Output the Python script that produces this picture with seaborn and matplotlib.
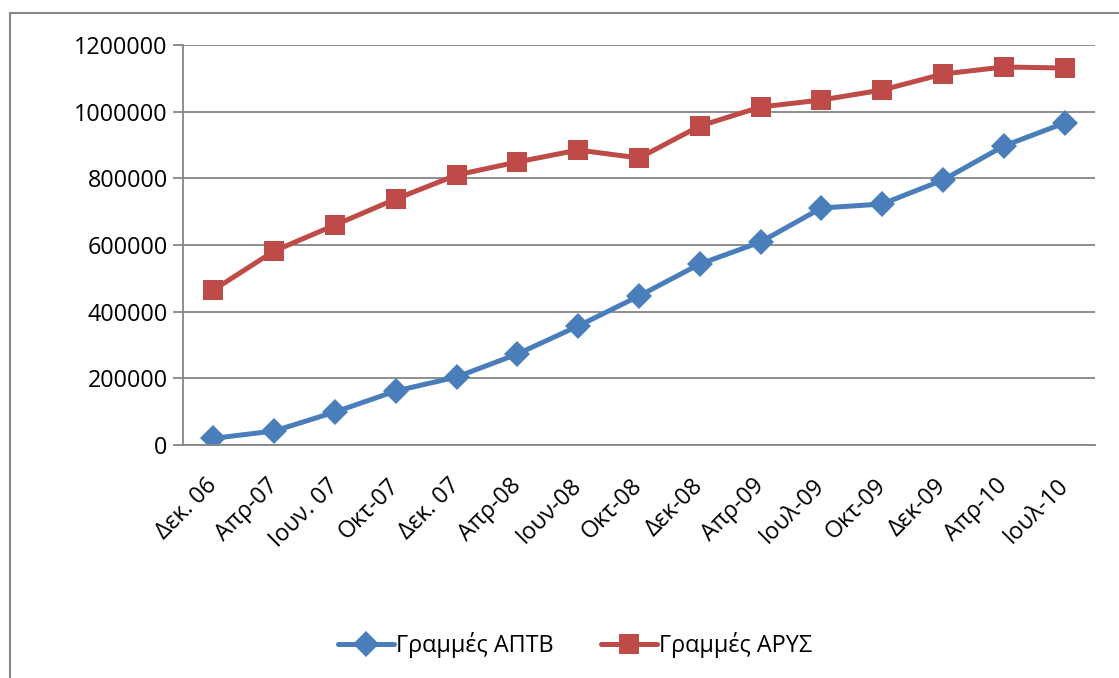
import matplotlib
matplotlib.use("Agg")
import matplotlib.pyplot as plt
import seaborn as sns
import pandas as pd
from matplotlib.patches import Rectangle
from matplotlib.ticker import FixedLocator

categories = ["Δεκ. 06", "Απρ-07", "Ιουν. 07", "Οκτ-07", "Δεκ. 07", "Απρ-08", "Ιουν-08",
              "Οκτ-08", "Δεκ-08", "Απρ-09", "Ιουλ-09", "Οκτ-09", "Δεκ-09", "Απρ-10", "Ιουλ-10"]
aptb = [20000, 42000, 99000, 162000, 204000, 273000, 357000, 447000, 543000, 609000,
        711000, 723000, 795000, 897000, 966000]
arys = [465000, 582000, 660000, 738000, 810000, 849000, 885000, 861000, 957000, 1014000,
        1035000, 1065000, 1113000, 1134000, 1131000]
series_names = ["Γραμμές ΑΠΤΒ", "Γραμμές ΑΡΥΣ"]
yticks = [0, 200000, 400000, 600000, 800000, 1000000, 1200000]

sns.set_style("white")
plt.rcParams["font.family"] = ["Open Sans", "DejaVu Sans"]
plt.rcParams["text.color"] = "black"
plt.rcParams["xtick.color"] = "black"
plt.rcParams["ytick.color"] = "black"

idx = list(range(len(categories)))
df_a = pd.DataFrame({"cat": idx, "value": aptb})
df_r = pd.DataFrame({"cat": idx, "value": arys})

fig = plt.figure(figsize=(11.19, 6.78), dpi=100)
ax = fig.add_axes([183 / 1119, 1 - 445 / 678, (1095 - 183) / 1119, 400 / 678])

sns.lineplot(data=df_a, x="cat", y="value", color="#4A7EBB", marker="D",
             linewidth=3.6, markersize=13.5, markeredgewidth=0, ax=ax,
             label=series_names[0])
sns.lineplot(data=df_r, x="cat", y="value", color="#BE4B48", marker="s",
             linewidth=3.6, markersize=14.2, markeredgewidth=0, ax=ax,
             label=series_names[1])

ax.set_xlim(-0.5, len(categories) - 0.5)
ax.set_ylim(0, 1200000)
ax.set_yticks(yticks)
ax.set_yticklabels([str(v) for v in yticks])
ax.yaxis.grid(True, color="#868686", linewidth=1.3)
ax.set_axisbelow(True)

ax.set_xticks(idx)
ax.set_xticklabels(categories, rotation=45, ha="right", va="center",
                   rotation_mode="anchor")
ax.xaxis.set_minor_locator(FixedLocator([i - 0.5 for i in range(len(categories) + 1)]))
ax.tick_params(axis="x", which="major", length=0, pad=27, labelsize=16.8,
               labelcolor="black")
ax.tick_params(axis="x", which="minor", length=7, width=1.3, color="#868686", direction="out")
ax.tick_params(axis="y", which="major", length=7, width=1.3, color="#868686",
               direction="out", labelsize=16.8, pad=4, left=True, labelcolor="black")
ax.set_xlabel("")
ax.set_ylabel("")

for side in ["top", "right"]:
    ax.spines[side].set_visible(False)
for side in ["left", "bottom"]:
    ax.spines[side].set_color("#868686")
    ax.spines[side].set_linewidth(1.3)

handles, labels = ax.get_legend_handles_labels()
ax.get_legend().remove()
fig.legend(handles, labels, loc="center", bbox_to_anchor=(575 / 1119, 1 - 645 / 678),
           ncol=2, frameon=False, fontsize=16.8, handlelength=2.4, columnspacing=2.0,
           handletextpad=0.1, labelcolor="black")

fig.patches.append(Rectangle((10 / 1119, -0.05), 1.2, 1 - 13 / 678 + 0.05,
                             transform=fig.transFigure, fill=False,
                             edgecolor="#868686", linewidth=1.5))

fig.savefig("out.png", dpi=100)
